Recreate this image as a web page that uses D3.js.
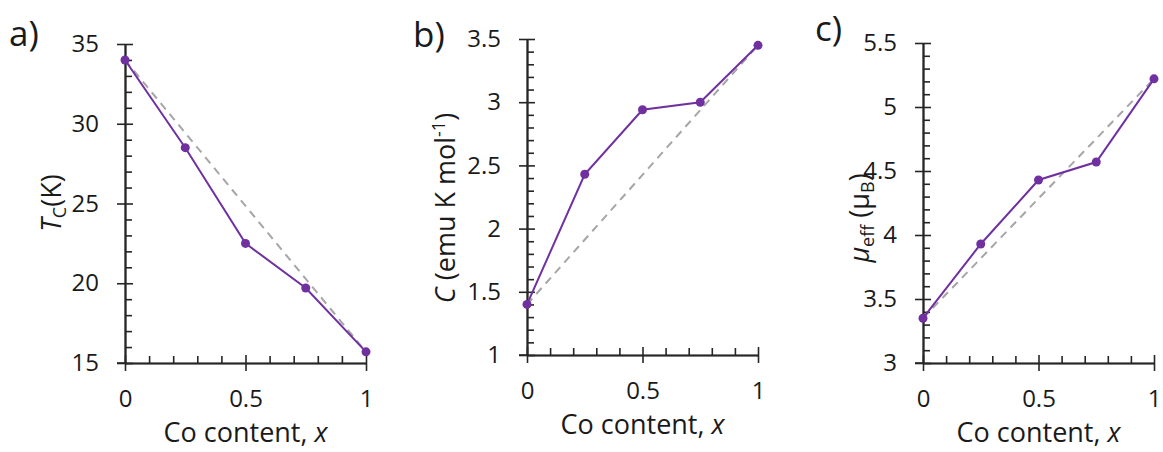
<!DOCTYPE html>
<html><head><meta charset="utf-8">
<script src="https://cdn.jsdelivr.net/npm/d3@7"></script>
<style>
html,body{margin:0;padding:0;background:#fff;}
svg text{font-family:"Open Sans",sans-serif;fill:#1a1a1a;}
</style></head>
<body>
<svg id="c" width="1163" height="452"></svg>
<script>
const xValues = [0, 0.25, 0.5, 0.75, 1];
const tcValues = [34.0, 28.5, 22.5, 19.7, 15.7];
const cValues = [1.40, 2.43, 2.94, 3.00, 3.45];
const muValues = [3.35, 3.93, 4.43, 4.57, 5.22];
const xMajorTicks = [0, 0.5, 1];
const xTickLabels = ["0", "0.5", "1"];
const xMinorTicks = [0.1, 0.2, 0.3, 0.4, 0.6, 0.7, 0.8, 0.9];
const tcMajorTicks = [15, 20, 25, 30, 35];
const tcMinorTicks = [16,17,18,19,21,22,23,24,26,27,28,29,31,32,33,34];
const cMajorTicks = [1, 1.5, 2, 2.5, 3, 3.5];
const cTickLabels = ["1", "1.5", "2", "2.5", "3", "3.5"];
const muMajorTicks = [3, 3.5, 4, 4.5, 5, 5.5];
const muTickLabels = ["3", "3.5", "4", "4.5", "5", "5.5"];
const panelLabels = ["a)", "b)", "c)"];
const xTitle = "Co content, ";

const svg = d3.select("#c");
const PURPLE = "#7030a0", AXIS = "#262626", DASH = "#a6a6a6";

function minorOf(major, step) {
  const out = [];
  for (let i = 0; i < major.length - 1; i++) {
    for (let k = 1; k < 5; k++) out.push(+(major[i] + k * step).toFixed(3));
  }
  return out;
}

const panels = [
  {label: panelLabels[0], lx: 9, ly: 46, x0: 125, x1: 366, yTop: 44, yBot: 363,
   domain: [15, 35], vals: tcValues, major: tcMajorTicks, labels: tcMajorTicks.map(String), minor: tcMinorTicks,
   title: "a", tx: 61, ty: 203},
  {label: panelLabels[1], lx: 413, ly: 47, x0: 527, x1: 758, yTop: 39, yBot: 355,
   domain: [1, 3.5], vals: cValues, major: cMajorTicks, labels: cTickLabels, minor: minorOf(cMajorTicks, 0.1),
   title: "b", tx: 455, ty: 208},
  {label: panelLabels[2], lx: 815, ly: 41, x0: 923, x1: 1154, yTop: 43, yBot: 363,
   domain: [3, 5.5], vals: muValues, major: muMajorTicks, labels: muTickLabels, minor: minorOf(muMajorTicks, 0.1),
   title: "c", tx: 869, ty: 218}
];

panels.forEach(p => {
  const x = d3.scaleLinear().domain([0, 1]).range([p.x0, p.x1]);
  const y = d3.scaleLinear().domain(p.domain).range([p.yBot, p.yTop]);
  const g = svg.append("g");

  g.append("g").attr("transform", `translate(${p.x0},0)`)
    .call(d3.axisLeft(y).tickValues(p.major).tickFormat((d, i) => p.labels[i]).tickSize(8).tickSizeOuter(0).tickPadding(18));
  g.append("g").attr("transform", `translate(${p.x0},0)`)
    .call(d3.axisRight(y).tickValues(p.major).tickFormat("").tickSize(8).tickSizeOuter(0));
  g.append("g").attr("transform", `translate(${p.x0},0)`)
    .call(d3.axisRight(y).tickValues(p.minor).tickFormat("").tickSize(7).tickSizeOuter(0));

  g.append("g").attr("transform", `translate(0,${p.yBot})`)
    .call(d3.axisBottom(x).tickValues(xMajorTicks).tickFormat((d, i) => xTickLabels[i]).tickSize(8).tickSizeOuter(0).tickPadding(19));
  g.append("g").attr("transform", `translate(0,${p.yBot})`)
    .call(d3.axisTop(x).tickValues(xMajorTicks).tickFormat("").tickSize(8).tickSizeOuter(0));
  g.append("g").attr("transform", `translate(0,${p.yBot})`)
    .call(d3.axisTop(x).tickValues(xMinorTicks).tickFormat("").tickSize(7).tickSizeOuter(0));

  g.selectAll(".domain").attr("stroke", AXIS).attr("stroke-width", 1.6);
  g.selectAll(".tick line").attr("stroke", AXIS).attr("stroke-width", 1.6);
  g.selectAll(".tick text").attr("font-size", 24).attr("font-family", '"Open Sans",sans-serif').attr("fill", "#1a1a1a");
  g.append("line").attr("x1", p.x0 - 8).attr("x2", p.x0).attr("y1", p.yBot).attr("y2", p.yBot)
    .attr("stroke", AXIS).attr("stroke-width", 1.6);

  const n = p.vals.length - 1;
  g.append("line")
    .attr("x1", x(xValues[0])).attr("y1", y(p.vals[0]))
    .attr("x2", x(xValues[n])).attr("y2", y(p.vals[n]))
    .attr("stroke", DASH).attr("stroke-width", 2).attr("stroke-dasharray", "8,6");

  const line = d3.line().x((d, i) => x(xValues[i])).y(d => y(d));
  g.append("path").datum(p.vals).attr("d", line)
    .attr("fill", "none").attr("stroke", PURPLE).attr("stroke-width", 2);
  g.selectAll("circle.pt").data(p.vals).enter().append("circle")
    .attr("cx", (d, i) => x(xValues[i])).attr("cy", d => y(d)).attr("r", 4.5).attr("fill", PURPLE);

  svg.append("text").attr("x", p.lx).attr("y", p.ly).attr("font-size", 35).text(p.label);

  const xt = svg.append("text").attr("x", (p.x0 + p.x1) / 2).attr("y", p.yBot + 79)
    .attr("text-anchor", "middle").attr("font-size", 27);
  xt.append("tspan").text(xTitle);
  xt.append("tspan").attr("font-style", "italic").text("x");

  const yt = svg.append("text").attr("transform", `translate(${p.tx},${p.ty}) rotate(-90)`)
    .attr("text-anchor", "middle").attr("font-size", 27);
  if (p.title === "a") {
    yt.append("tspan").attr("font-style", "italic").text("T");
    yt.append("tspan").attr("font-size", 18).attr("dy", 5).text("C");
    yt.append("tspan").attr("dy", -5).text("(K)");
  } else if (p.title === "b") {
    yt.append("tspan").attr("font-style", "italic").text("C");
    yt.append("tspan").text(" (emu K mol");
    yt.append("tspan").attr("font-size", 18).attr("dy", -10).text("-1");
    yt.append("tspan").attr("dy", 10).text(")");
  } else {
    yt.append("tspan").attr("font-style", "italic").text("\u03bc");
    yt.append("tspan").attr("font-size", 18).attr("dy", 5).text("eff");
    yt.append("tspan").attr("dy", -5).text(" (\u03bc");
    yt.append("tspan").attr("font-size", 18).attr("dy", 5).text("B");
    yt.append("tspan").attr("dy", -5).text(")");
  }
});
</script>
</body></html>
